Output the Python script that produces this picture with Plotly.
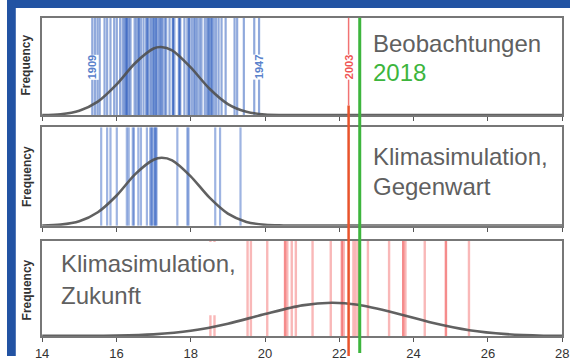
import plotly.graph_objects as go
from plotly.subplots import make_subplots

# ---------------- data ----------------
x_ticks = [14, 16, 18, 20, 22, 24, 26, 28]

# observed summer temperatures (panel 1), blue lines
obs_values = [15.35, 15.42, 15.49, 15.55, 15.68, 15.75, 15.84, 15.94, 16.01, 16.10, 16.17,
              16.22, 16.25, 16.28, 16.29, 16.34, 16.38, 16.49, 16.54, 16.60, 16.60, 16.66,
              16.73, 16.80, 16.84, 16.84, 16.91, 16.95, 17.00, 17.01, 17.07, 17.07, 17.13,
              17.17, 17.21, 17.24, 17.30, 17.34, 17.43, 17.52, 17.52, 17.56, 17.68, 17.70,
              17.72, 17.83, 17.91, 17.96, 17.96, 18.03, 18.09, 18.13, 18.18, 18.24, 18.29,
              18.38, 18.44, 18.48, 18.50, 18.55, 18.57, 18.62, 18.68, 18.75, 18.83, 18.94,
              19.18, 19.25, 19.43, 19.71, 19.84]
obs_labels = {"1909": 15.35, "1947": 19.84}

# climate simulation, present (panel 2)
sim_now_values = [15.59, 15.75, 15.84, 16.01, 16.28, 16.33, 16.44, 16.47, 16.59, 16.66,
                  16.82, 16.91, 16.95, 16.95, 17.01, 17.05, 17.05, 17.08, 17.64, 17.91,
                  17.94, 18.66, 18.79, 19.34]

# climate simulation, future (panel 3)
sim_future_values = [18.53, 18.64, 19.53, 19.62, 20.06, 20.54, 20.54, 20.60, 20.72, 20.83,
                     21.28, 21.77, 22.07, 22.07, 22.12, 22.38, 22.44, 22.51, 22.77, 23.34,
                     23.72, 23.72, 23.78, 24.30, 24.87, 24.87, 25.49]

year_2003 = 22.25
year_2018 = 22.55

# fitted density curves (x, relative height in panel)
curve1_x = [14.0, 14.5, 15.0, 15.5, 16.0, 16.5, 17.0, 17.2, 17.5, 18.0, 18.5, 19.0, 19.5, 20.0, 20.5, 28.0]
curve1_y = [0.004, 0.012, 0.048, 0.141, 0.315, 0.534, 0.685, 0.70, 0.666, 0.491, 0.275, 0.116, 0.037, 0.009, 0.004, 0.004]
curve2_x = [14.0, 14.5, 15.0, 15.5, 16.0, 16.5, 17.0, 17.22, 17.5, 18.0, 18.5, 19.0, 19.5, 20.0, 20.5, 28.0]
curve2_y = [0.004, 0.012, 0.046, 0.138, 0.305, 0.522, 0.67, 0.69, 0.664, 0.502, 0.288, 0.124, 0.040, 0.010, 0.004, 0.004]
curve3_x = [14.0, 15.0, 16.0, 17.0, 18.0, 19.0, 20.0, 21.0, 21.8, 22.5, 23.5, 24.5, 25.5, 26.5, 27.5, 28.0]
curve3_y = [0.004, 0.004, 0.007, 0.020, 0.057, 0.131, 0.233, 0.323, 0.35, 0.329, 0.244, 0.141, 0.063, 0.022, 0.006, 0.004]

# ---------------- figure ----------------
W, H = 577, 361
fig = make_subplots(rows=3, cols=1)

def vlines(values, row, color, opacity, width=2):
    for v in values:
        fig.add_trace(go.Scatter(x=[v, v], y=[0, 1], mode="lines",
                                 line=dict(color=color, width=width),
                                 opacity=opacity, hoverinfo="skip", showlegend=False),
                      row=row, col=1)

vlines(obs_values, 1, "rgb(35,85,185)", 0.5, 2.2)
vlines(sim_now_values, 2, "rgb(40,90,190)", 0.45, 2.2)
vlines(sim_future_values, 3, "rgb(240,70,70)", 0.38, 2.4)

curve_style = dict(color="rgba(80,80,80,0.9)", width=2.6, shape="spline", smoothing=0.8)
fig.add_trace(go.Scatter(x=curve1_x, y=curve1_y, mode="lines", line=curve_style,
                         hoverinfo="skip", showlegend=False), row=1, col=1)
fig.add_trace(go.Scatter(x=curve2_x, y=curve2_y, mode="lines", line=curve_style,
                         hoverinfo="skip", showlegend=False), row=2, col=1)
fig.add_trace(go.Scatter(x=curve3_x, y=curve3_y, mode="lines", line=curve_style,
                         hoverinfo="skip", showlegend=False), row=3, col=1)

def py(pix):  # pixel row -> paper y
    return (H - pix) / H

def px(pix):
    return pix / W

x_dom = [px(36), px(569)]
y_doms = [[py(117), py(18)], [py(229), py(129)], [py(341), py(244)]]

axis_common = dict(range=[14, 28], tickvals=x_ticks, ticks="outside", ticklen=4,
                   tickwidth=1.2, tickcolor="#555", showgrid=False, zeroline=False,
                   showline=True, mirror=True, linecolor="#777", linewidth=1.5,
                   domain=x_dom, fixedrange=True)
for i in range(3):
    xa = dict(axis_common)
    xa["showticklabels"] = (i == 2)
    xa["tickfont"] = dict(family="Liberation Sans, Arial", size=13, color="#333")
    fig.layout["xaxis" + ("" if i == 0 else str(i + 1))].update(xa)
    fig.layout["yaxis" + ("" if i == 0 else str(i + 1))].update(
        dict(range=[0, 1], domain=y_doms[i], showticklabels=False, ticks="",
             showgrid=False, zeroline=False, showline=True, mirror=True,
             linecolor="#777", linewidth=1.5, fixedrange=True))

shapes = [
    # blue frame (top and left)
    dict(type="rect", xref="paper", yref="paper", x0=0, x1=1, y0=py(8), y1=1,
         fillcolor="#2253a3", line=dict(width=0), layer="below"),
    dict(type="rect", xref="paper", yref="paper", x0=0, x1=px(9), y0=0, y1=1,
         fillcolor="#2253a3", line=dict(width=0), layer="below"),
    # white box behind text in panel 3
    dict(type="rect", xref="x3", yref="y3", x0=14.05, x1=19.45, y0=0.22, y1=0.985,
         fillcolor="white", line=dict(width=0), layer="above"),
    # 2003 line: thin light in panel 1, strong from there down
    dict(type="line", xref="x3", yref="paper", x0=year_2003, x1=year_2003,
         y0=py(107), y1=py(18), line=dict(color="rgba(240,90,90,0.85)", width=1.5)),
    dict(type="line", xref="x3", yref="paper", x0=year_2003, x1=year_2003,
         y0=0, y1=py(107), line=dict(color="#e9532b", width=2.5)),
    # 2018 line
    dict(type="line", xref="x3", yref="paper", x0=year_2018, x1=year_2018,
         y0=py(358), y1=py(18), line=dict(color="#3db53d", width=3)),
]
fig.update_layout(shapes=shapes)

txt_font = dict(family="Liberation Sans, Arial", size=24, color="#606060")
annotations = [
    dict(text="Beobachtungen", x=px(373), y=py(44.2), font=txt_font),
    dict(text="2018", x=px(373), y=py(73.4), font=dict(txt_font, color="#3db53d")),
    dict(text="Klimasimulation,", x=px(373), y=py(159.2), font=txt_font),
    dict(text="Gegenwart", x=px(373), y=py(189.5), font=txt_font),
    dict(text="Klimasimulation,", x=px(53), y=py(267.5), font=txt_font),
    dict(text="Zukunft", x=px(53), y=py(299.2), font=txt_font),
]
for a in annotations:
    a.update(xref="paper", yref="paper", xanchor="left", yanchor="middle",
             showarrow=False)

freq_font = dict(family="Liberation Sans, Arial", size=12, color="#333")
for yc in [66, 179, 294]:
    annotations.append(dict(text="<b>Frequency</b>", x=px(20), y=py(yc), xref="paper",
                            yref="paper", textangle=-90, showarrow=False,
                            font=freq_font, xanchor="center", yanchor="middle"))

lab_font = dict(family="Liberation Sans, Arial", size=11, color="#5a82cc")
for name, v in obs_labels.items():
    annotations.append(dict(text="<b>" + name + "</b>", x=v, y=py(68), xref="x",
                            yref="paper", textangle=-90, showarrow=False,
                            font=lab_font, bgcolor="white", borderpad=0,
                            xanchor="center", yanchor="middle"))
annotations.append(dict(text="<b>2003</b>", x=year_2003, y=py(68.5), xref="x",
                        yref="paper", textangle=-90, showarrow=False,
                        font=dict(lab_font, color="#ef5555"), bgcolor="white",
                        borderpad=0, xanchor="center", yanchor="middle"))

fig.update_layout(annotations=annotations, width=W, height=H,
                  margin=dict(l=0, r=0, t=0, b=0), paper_bgcolor="white",
                  plot_bgcolor="white", showlegend=False)

fig.write_html("out.html", config={"responsive": False, "displayModeBar": False},
               post_script="document.body.style.margin='0px';document.body.style.padding='0px';")
